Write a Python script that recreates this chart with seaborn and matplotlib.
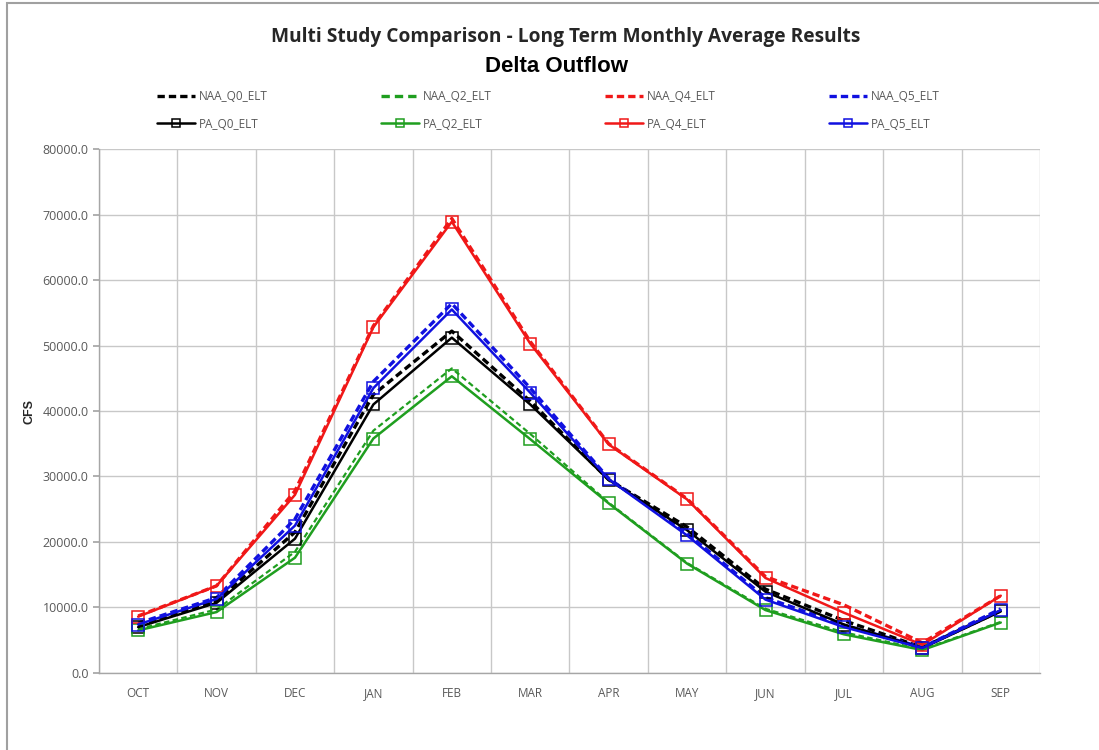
import matplotlib
matplotlib.use("Agg")
import matplotlib.pyplot as plt
from matplotlib.lines import Line2D
from matplotlib.patches import Rectangle
import numpy as np
import pandas as pd
import seaborn as sns

# Monthly labels (water year order)
months = ["OCT", "NOV", "DEC", "JAN", "FEB", "MAR", "APR", "MAY", "JUN", "JUL", "AUG", "SEP"]

# Long term monthly average Delta outflow (cfs)
naa_q0 = [7200, 11000, 21500, 42500, 52200, 41500, 29500, 22300, 12800, 8000, 3900, 9500]
pa_q0 = [7000, 10700, 20500, 41000, 51200, 41000, 29500, 21800, 12400, 7400, 3800, 9400]
naa_q2 = [6700, 9700, 18500, 37000, 46500, 36500, 26000, 16800, 9800, 6200, 3600, 7800]
pa_q2 = [6500, 9300, 17600, 35800, 45300, 35700, 25900, 16700, 9600, 5900, 3500, 7700]
naa_q4 = [8700, 13300, 27800, 53000, 69400, 50600, 35000, 26600, 14700, 10400, 4600, 11800]
pa_q4 = [8600, 13300, 27200, 52800, 68900, 50300, 34900, 26500, 14500, 9200, 4300, 11800]
naa_q5 = [7600, 11500, 23500, 44500, 56400, 43500, 29700, 21300, 11500, 7300, 3900, 9800]
pa_q5 = [7400, 11300, 22500, 43500, 55500, 42800, 29600, 21000, 11200, 7000, 3800, 9600]

series = {
    "NAA_Q0_ELT": naa_q0, "PA_Q0_ELT": pa_q0,
    "NAA_Q2_ELT": naa_q2, "PA_Q2_ELT": pa_q2,
    "NAA_Q4_ELT": naa_q4, "PA_Q4_ELT": pa_q4,
    "NAA_Q5_ELT": naa_q5, "PA_Q5_ELT": pa_q5,
}
colors = {"Q0": "#000000", "Q2": "#1f9e1f", "Q4": "#f01818", "Q5": "#1010e0"}

df = pd.DataFrame(
    [(name, i, m, v) for name, vals in series.items() for i, (m, v) in enumerate(zip(months, vals))],
    columns=["study", "idx", "month", "cfs"],
)

sns.set_theme(style="white")
plt.rcParams["font.family"] = ["Open Sans", "DejaVu Sans"]

fig = plt.figure(figsize=(10.99, 7.5), dpi=100)
ax = fig.add_axes([0.090, 0.1027, 0.8563, 0.6986])

# outer chart frame
fig.patches.append(Rectangle((7 / 1099, -0.05), 1.2, 1.05 - 3 / 750, transform=fig.transFigure,
                             fill=False, edgecolor="#a0a0a0", linewidth=1.5, zorder=0))

handles = []
order = ["Q0", "Q2", "Q4", "Q5"]
for q in order:
    c = colors[q]
    naa = f"NAA_{q}_ELT"
    pa = f"PA_{q}_ELT"
    dash = (2.2, 1.2) if q != "Q2" else (2.5, 1.5)
    lw_naa = 2.4 if q != "Q2" else 1.6
    sns.lineplot(data=df[df.study == naa], x="idx", y="cfs", ax=ax, color=c,
                 linewidth=lw_naa, dashes=False, sort=False, zorder=3,
                 linestyle=(0, dash))
    sns.lineplot(data=df[df.study == pa], x="idx", y="cfs", ax=ax, color=c,
                 linewidth=1.8, sort=False, marker="s", markersize=8,
                 markerfacecolor="none", markeredgecolor=c, markeredgewidth=1.1, zorder=4)
    handles.append(Line2D([], [], color=c, linewidth=2.4, linestyle=(0, dash)))
    handles.append(Line2D([], [], color=c, linewidth=1.8, marker="s", markersize=6,
                          markerfacecolor="none", markeredgecolor=c, markeredgewidth=1.1))

labels = []
for q in order:
    labels += [f"NAA_{q}_ELT", f"PA_{q}_ELT"]

ax.set_xlim(-0.5, 11.5)
ax.set_ylim(0, 80000)
ax.set_yticks(np.arange(0, 80001, 10000))
ax.set_yticklabels([f"{v:.1f}" for v in np.arange(0, 80001, 10000)], color="#595959", fontsize=9)
ax.set_xticks(range(12))
ax.set_xticklabels(months, color="#595959", fontsize=8.5)
ax.set_xticks(np.arange(-0.5, 12, 1), minor=True)
ax.tick_params(axis="x", which="major", length=0, pad=10)
ax.tick_params(axis="x", which="minor", length=4, color="#a6a6a6", direction="out")
ax.tick_params(axis="y", length=4, color="#a6a6a6", direction="out", left=True)
ax.grid(axis="y", color="#c8c8c8", linewidth=1)
ax.grid(axis="x", which="minor", color="#c8c8c8", linewidth=1)
ax.grid(axis="x", which="major", visible=False)
for s in ["top", "right"]:
    ax.spines[s].set_visible(False)
for s in ["left", "bottom"]:
    ax.spines[s].set_color("#a6a6a6")
    ax.spines[s].set_linewidth(1)
ax.set_xlabel("")
ax.set_ylabel("CFS", fontsize=9, fontweight="bold", family=["Liberation Sans", "DejaVu Sans"])
ax.yaxis.set_label_coords(-0.067, 0.5)
ax.set_axisbelow(True)
if ax.get_legend():
    ax.get_legend().remove()

fig.text(0.515, 0.951, "Multi Study Comparison - Long Term Monthly Average Results",
         ha="center", va="center", fontsize=13.8, fontweight="bold", color="#262626")
fig.text(0.506, 0.912, "Delta Outflow", ha="center", va="center", fontsize=16,
         fontweight="bold", color="#000000", family=["Liberation Sans", "DejaVu Sans"])

leg = fig.legend(handles, labels, ncol=4, loc="center", bbox_to_anchor=(0.499, 0.853),
                 frameon=False, fontsize=8.5, handlelength=3.2, columnspacing=9.6,
                 labelspacing=1.25, handletextpad=0.33)
for t in leg.get_texts():
    t.set_color("#595959")

fig.savefig("out.png", dpi=100)
